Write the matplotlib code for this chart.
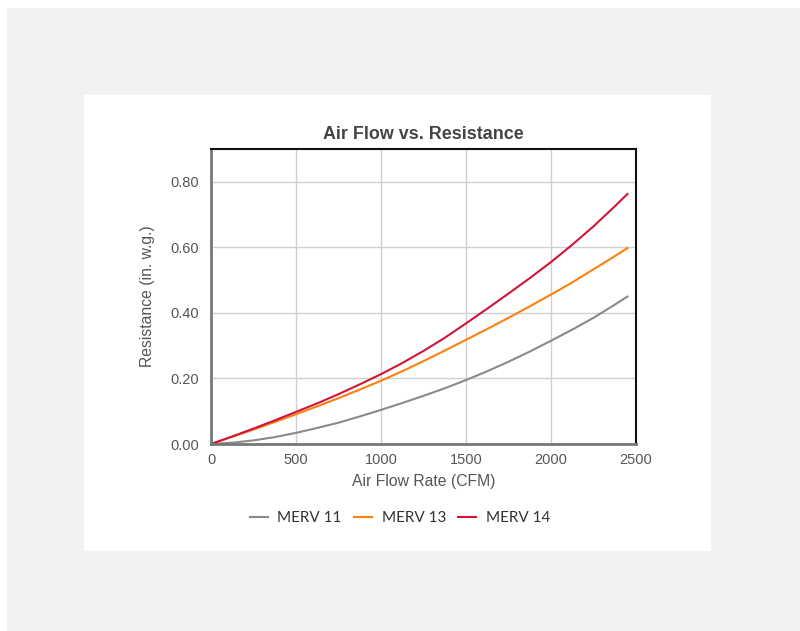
import matplotlib.pyplot as plt
from matplotlib.patches import Rectangle

# air flow (CFM) and resistance (in. w.g.)
flow_cfm = [0, 125, 250, 375, 500, 625, 750, 875, 1000, 1125, 1250,
            1375, 1500, 1625, 1750, 1875, 2000, 2125, 2250, 2375, 2450]
merv_11 = [0.0, 0.004, 0.011, 0.021, 0.034, 0.049, 0.065, 0.084, 0.104, 0.125, 0.147,
           0.170, 0.195, 0.222, 0.251, 0.282, 0.315, 0.349, 0.385, 0.425, 0.450]
merv_13 = [0.0, 0.022, 0.044, 0.067, 0.091, 0.115, 0.140, 0.166, 0.193, 0.222, 0.253,
           0.285, 0.318, 0.351, 0.385, 0.420, 0.456, 0.493, 0.533, 0.573, 0.598]
merv_14 = [0.0, 0.023, 0.047, 0.072, 0.098, 0.124, 0.152, 0.182, 0.213, 0.247, 0.284,
           0.324, 0.368, 0.413, 0.459, 0.506, 0.555, 0.608, 0.664, 0.725, 0.763]

x_ticks = [0, 500, 1000, 1500, 2000, 2500]
y_ticks = [0.0, 0.2, 0.4, 0.6, 0.8]

txt_clr = "#555555"
plt.rcParams["font.family"] = ["Liberation Sans", "DejaVu Sans"]

fig = plt.figure(figsize=(8, 6.31), dpi=100)
fig.patch.set_facecolor("white")
# grey page panel and white card behind the chart
fig.patches.append(
    Rectangle((7 / 800, 0), 793 / 800, 623 / 631, transform=fig.transFigure,
              facecolor="#f1f2f4", edgecolor="none", zorder=-2)
)
fig.patches.append(
    Rectangle((84 / 800, 1 - 551 / 631), 627 / 800, 456 / 631, transform=fig.transFigure,
              facecolor="white", edgecolor="none", zorder=-1)
)

ax = fig.add_axes([211 / 800, 1 - 444 / 631, 425 / 800, 295 / 631])
ax.patch.set_alpha(0)

ax.plot(flow_cfm, merv_11, color="#8a8a8a", lw=1.5, label="MERV 11")
ax.plot(flow_cfm, merv_13, color="#ff7f0e", lw=1.5, label="MERV 13")
ax.plot(flow_cfm, merv_14, color="#d0153a", lw=1.5, label="MERV 14")

ax.set_xlim(0, 2500)
ax.set_ylim(0, 0.9)
ax.set_xticks(x_ticks)
ax.set_yticks(y_ticks)
ax.set_yticklabels([f"{v:.2f}" for v in y_ticks])
ax.tick_params(axis="both", length=0, labelsize=10.5, colors=txt_clr)
ax.tick_params(axis="y", pad=8.6)
ax.tick_params(axis="x", pad=6.5)
ax.grid(True, color="#d0d0d0", lw=1)
ax.set_axisbelow(True)

for side in ["left", "bottom"]:
    ax.spines[side].set_color("#777777")
    ax.spines[side].set_linewidth(2)
for side in ["top", "right"]:
    ax.spines[side].set_color("#111111")
    ax.spines[side].set_linewidth(1.5)

ax.set_title("Air Flow vs. Resistance", fontsize=12.9, fontweight="bold",
             color="#444444", pad=7)
ax.set_xlabel("Air Flow Rate (CFM)", fontsize=11.3, color=txt_clr, labelpad=5)
ax.set_ylabel("Resistance (in. w.g.)", fontsize=11.3, color=txt_clr, labelpad=11)

leg = fig.legend(loc="center", bbox_to_anchor=(400 / 800, 1 - 518 / 631), ncol=3,
                 frameon=False, handlelength=1.2, columnspacing=0.8, handletextpad=0.6,
                 prop={"family": "Lato", "size": 11})
for t in leg.get_texts():
    t.set_color("#333333")

plt.savefig("out.png", dpi=100)
